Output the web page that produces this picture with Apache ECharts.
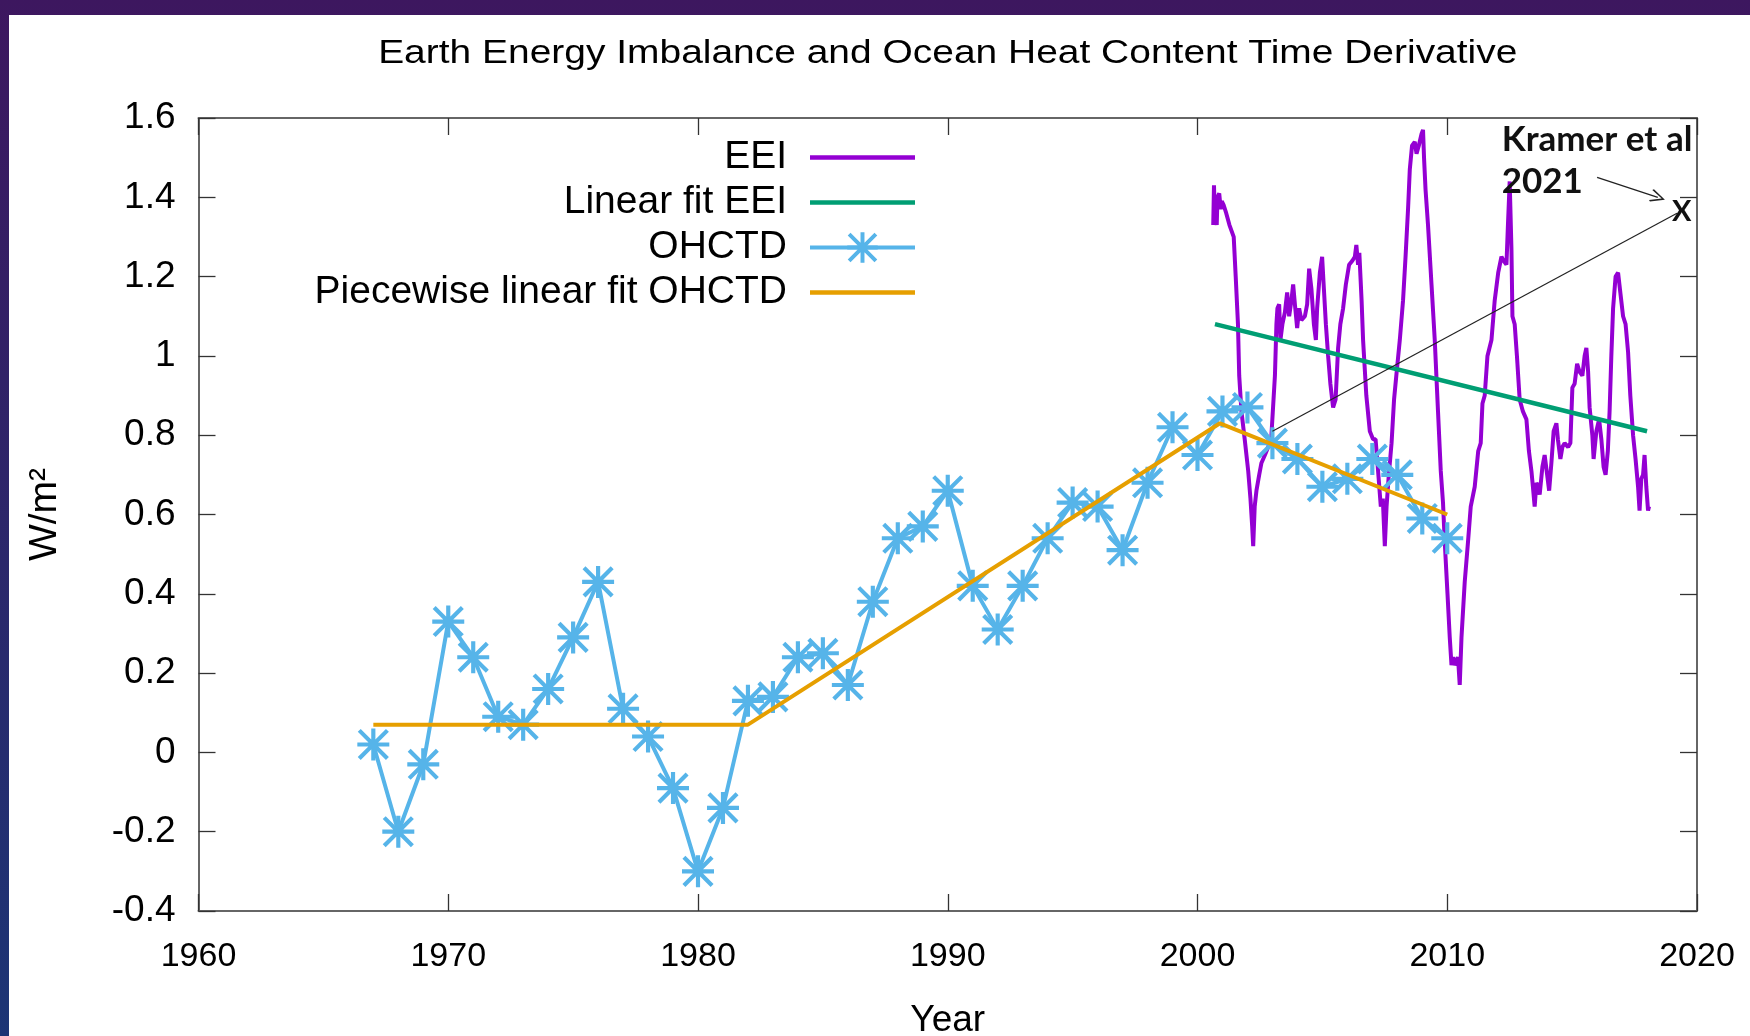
<!DOCTYPE html>
<html>
<head>
<meta charset="utf-8">
<script src="https://cdn.jsdelivr.net/npm/echarts@6/dist/echarts.min.js"></script>
<style>
html,body{margin:0;padding:0;background:#fff;}
#chart{width:1750px;height:1036px;}
</style>
</head>
<body>
<div id="chart"></div>
<script>
// ---- Data ----
const xTicks = [1960, 1970, 1980, 1990, 2000, 2010, 2020];
const yTicks = [-0.4, -0.2, 0, 0.2, 0.4, 0.6, 0.8, 1.0, 1.2, 1.4, 1.6];

const ohctdYears = [1967,1968,1969,1970,1971,1972,1973,1974,1975,1976,1977,1978,1979,1980,1981,1982,1983,1984,1985,1986,1987,1988,1989,1990,1991,1992,1993,1994,1995,1996,1997,1998,1999,2000,2001,2002,2003,2004,2005,2006,2007,2008,2009,2010];
const ohctdValues = [0.02,-0.20,-0.03,0.33,0.24,0.09,0.07,0.16,0.29,0.43,0.11,0.04,-0.09,-0.30,-0.14,0.13,0.14,0.24,0.25,0.17,0.38,0.54,0.57,0.66,0.42,0.31,0.42,0.54,0.63,0.62,0.51,0.68,0.82,0.75,0.86,0.87,0.78,0.74,0.67,0.69,0.74,0.70,0.59,0.54];

const pieceYears = [1967, 1982, 2000.9, 2010];
const pieceValues = [0.07, 0.07, 0.83, 0.60];

const eeiFitYears = [2000.7, 2018.0];
const eeiFitValues = [1.08, 0.81];

const eeiYears = [2000.63,2000.66,2000.70,2000.73,2000.77,2000.80,2000.87,2000.93,2000.97,2001.05,2001.15,2001.28,2001.45,2001.53,2001.62,2001.67,2001.76,2001.89,2002.03,2002.12,2002.19,2002.23,2002.29,2002.36,2002.47,2002.56,2002.70,2002.83,2002.96,2003.10,2003.16,2003.20,2003.27,2003.32,2003.40,2003.50,2003.59,2003.67,2003.76,2003.83,2003.90,2003.99,2004.07,2004.16,2004.30,2004.39,2004.47,2004.56,2004.66,2004.74,2004.79,2004.90,2004.99,2005.06,2005.14,2005.23,2005.32,2005.43,2005.53,2005.63,2005.72,2005.83,2005.94,2006.07,2006.20,2006.30,2006.36,2006.43,2006.48,2006.57,2006.63,2006.76,2006.90,2007.03,2007.13,2007.23,2007.34,2007.42,2007.50,2007.57,2007.66,2007.77,2007.87,2007.96,2008.10,2008.23,2008.33,2008.43,2008.50,2008.59,2008.70,2008.77,2008.86,2008.97,2009.03,2009.07,2009.13,2009.23,2009.37,2009.50,2009.63,2009.74,2009.83,2009.90,2010.01,2010.10,2010.17,2010.24,2010.30,2010.43,2010.50,2010.57,2010.70,2010.83,2010.94,2011.10,2011.24,2011.34,2011.41,2011.50,2011.61,2011.77,2011.90,2012.04,2012.17,2012.26,2012.37,2012.43,2012.50,2012.57,2012.61,2012.70,2012.79,2012.90,2013.03,2013.17,2013.27,2013.37,2013.43,2013.50,2013.57,2013.63,2013.70,2013.81,2013.90,2014.00,2014.08,2014.17,2014.26,2014.37,2014.43,2014.53,2014.61,2014.70,2014.84,2014.93,2015.01,2015.10,2015.20,2015.30,2015.41,2015.50,2015.57,2015.64,2015.70,2015.81,2015.86,2015.97,2016.08,2016.17,2016.26,2016.34,2016.43,2016.50,2016.57,2016.64,2016.74,2016.84,2016.93,2017.04,2017.14,2017.24,2017.33,2017.44,2017.54,2017.64,2017.70,2017.77,2017.84,2017.90,2017.97,2018.04,2018.08];
const eeiValues = [1.33,1.43,1.34,1.40,1.33,1.40,1.41,1.37,1.39,1.38,1.36,1.33,1.30,1.20,1.08,0.95,0.86,0.79,0.71,0.64,0.57,0.52,0.62,0.66,0.70,0.73,0.75,0.77,0.80,0.95,1.08,1.12,1.13,1.04,1.08,1.11,1.16,1.10,1.14,1.18,1.13,1.07,1.12,1.09,1.10,1.13,1.22,1.17,1.08,1.04,1.12,1.21,1.25,1.17,1.08,1.00,0.93,0.87,0.89,1.02,1.08,1.12,1.18,1.23,1.24,1.25,1.28,1.23,1.26,1.14,1.04,0.90,0.81,0.79,0.79,0.71,0.62,0.64,0.52,0.62,0.70,0.78,0.89,0.95,1.04,1.14,1.25,1.37,1.47,1.53,1.54,1.51,1.53,1.56,1.57,1.50,1.42,1.33,1.18,1.04,0.86,0.71,0.63,0.53,0.40,0.29,0.22,0.24,0.22,0.24,0.17,0.29,0.43,0.53,0.62,0.67,0.76,0.78,0.88,0.90,1.00,1.04,1.14,1.21,1.25,1.24,1.23,1.33,1.44,1.27,1.10,1.08,1.00,0.89,0.86,0.84,0.76,0.71,0.67,0.62,0.68,0.67,0.65,0.72,0.75,0.70,0.66,0.73,0.81,0.83,0.79,0.74,0.77,0.78,0.77,0.78,0.92,0.93,0.98,0.96,0.95,1.00,1.02,0.96,0.87,0.80,0.74,0.81,0.84,0.79,0.72,0.70,0.76,0.86,1.00,1.12,1.20,1.21,1.16,1.10,1.08,1.01,0.90,0.80,0.74,0.67,0.61,0.69,0.70,0.75,0.67,0.61,0.62];

// Kramer et al 2021 annotation line (hand-drawn in reference)
const kramerYears = [2003.0, 2019.2];
const kramerValues = [0.81, 1.36];
const arrowYears = [2016.0, 2018.43];
const arrowValues = [1.45, 1.40];
const annotTexts = ['Kramer et al', '2021', 'X'];
const annotYears = [2012.18, 2012.18, 2019.39];
const annotValues = [1.546, 1.439, 1.365];

const seriesNames = ['EEI', 'Linear fit EEI', 'OHCTD', 'Piecewise linear fit OHCTD'];
const colors = ['#9400D3', '#009E73', '#56B4E9', '#E69F00'];

// ---- helpers ----
const zip = (xs, ys) => xs.map((x, i) => [x, ys[i]]);
const asterisk = 'path://M0,43.5H100V56.5H0Z M43.5,0H56.5V100H43.5Z M1.4,10.6L10.6,1.4L98.6,89.4L89.4,98.6Z M1.4,89.4L89.4,1.4L98.6,10.6L10.6,98.6Z';
const barIcon = 'path://M0,0H105V4.3H0Z';
const chevron = 'path://M50,0L100,80L91,88L50,20L9,88L0,80Z';
const FONT = '"Liberation Sans", Arial, sans-serif';

const chart = echarts.init(document.getElementById('chart'), null, {renderer: 'canvas'});

const axisLineStyle = {color: '#666', width: 2};
const tickStyle = {color: '#333', width: 1.3};

const option = {
  animation: false,
  backgroundColor: '#ffffff',
  graphic: [
    {type: 'rect', z: -10, silent: true, shape: {x: 0, y: 0, width: 1750, height: 1036},
     style: {fill: new echarts.graphic.LinearGradient(0, 0, 0, 1, [{offset: 0, color: '#3d175f'}, {offset: 1, color: '#1c3575'}])}},
    {type: 'rect', z: -9, silent: true, shape: {x: 9, y: 15, width: 1741, height: 1021}, style: {fill: '#ffffff'}},
    {type: 'text', z: 10, x: 947.75, y: 54, scaleX: 1.18, silent: true,
     style: {text: 'Earth Energy Imbalance and Ocean Heat Content Time Derivative', fontSize: 33, fontFamily: FONT, fill: '#000', align: 'center', verticalAlign: 'middle'}}
  ],
  grid: {left: 198.5, right: 53, top: 118, bottom: 125, containLabel: false, outerBoundsMode: 'none'},
  legend: {
    orient: 'vertical', align: 'right', right: 833, top: 138,
    itemWidth: 105, itemHeight: 38, itemGap: 6, padding: 0, selectedMode: false,
    textStyle: {fontSize: 39, fontFamily: FONT, color: '#000', lineHeight: 38, padding: [0, 18, 0, 0]},
    data: [
      {name: seriesNames[0], icon: barIcon},
      {name: seriesNames[1], icon: barIcon},
      {name: seriesNames[2], lineStyle: {width: 4}},
      {name: seriesNames[3], icon: barIcon}
    ]
  },
  xAxis: [
    {type: 'value', position: 'bottom', min: xTicks[0], max: xTicks[xTicks.length - 1], interval: 10,
     axisLine: {show: true, onZero: false, lineStyle: axisLineStyle},
     axisTick: {show: true, inside: true, length: 17, lineStyle: tickStyle},
     axisLabel: {fontSize: 34, fontFamily: FONT, color: '#000', margin: 29, formatter: v => String(v)},
     splitLine: {show: false},
     name: 'Year', nameLocation: 'middle', nameGap: 91,
     nameTextStyle: {fontSize: 37, fontFamily: FONT, color: '#000'}},
    {type: 'value', position: 'top', min: xTicks[0], max: xTicks[xTicks.length - 1], interval: 10,
     axisLine: {show: true, onZero: false, lineStyle: axisLineStyle},
     axisTick: {show: true, inside: true, length: 17, lineStyle: tickStyle},
     axisLabel: {show: false}, splitLine: {show: false}}
  ],
  yAxis: [
    {type: 'value', position: 'left', min: yTicks[0], max: yTicks[yTicks.length - 1], interval: 0.2,
     axisLine: {show: true, onZero: false, lineStyle: axisLineStyle},
     axisTick: {show: true, inside: true, length: 17, lineStyle: tickStyle},
     axisLabel: {fontSize: 37, fontFamily: FONT, color: '#000', margin: 23,
                 formatter: v => String(Number(v.toFixed(1)))},
     splitLine: {show: false},
     name: 'W/m²', nameLocation: 'middle', nameRotate: 90, nameGap: 134,
     nameTextStyle: {fontSize: 39, fontFamily: FONT, color: '#000'}},
    {type: 'value', position: 'right', min: yTicks[0], max: yTicks[yTicks.length - 1], interval: 0.2,
     axisLine: {show: true, onZero: false, lineStyle: axisLineStyle},
     axisTick: {show: true, inside: true, length: 17, lineStyle: tickStyle},
     axisLabel: {show: false}, splitLine: {show: false}}
  ],
  series: [
    {name: seriesNames[0], type: 'line', data: zip(eeiYears, eeiValues), symbol: 'none',
     color: colors[0], lineStyle: {color: colors[0], width: 4}, z: 2},
    {name: seriesNames[1], type: 'line', data: zip(eeiFitYears, eeiFitValues), symbol: 'none',
     color: colors[1], lineStyle: {color: colors[1], width: 4.5}, z: 3},
    {name: seriesNames[2], type: 'line', data: zip(ohctdYears, ohctdValues), symbol: asterisk, symbolSize: 32,
     showSymbol: true, color: colors[2], itemStyle: {color: colors[2]}, lineStyle: {color: colors[2], width: 4}, z: 4},
    {name: seriesNames[3], type: 'line', data: zip(pieceYears, pieceValues), symbol: 'none',
     color: colors[3], lineStyle: {color: colors[3], width: 4}, z: 5},
    {name: 'Kramer', type: 'line', data: zip(kramerYears, kramerValues), symbol: 'none',
     color: '#222', lineStyle: {color: '#222', width: 1.2}, z: 6, silent: true,
     markLine: {silent: true, symbol: ['none', chevron], symbolSize: [13, 15],
       lineStyle: {color: '#222', width: 1.3, type: 'solid'}, label: {show: false},
       data: [[{coord: [arrowYears[0], arrowValues[0]]}, {coord: [arrowYears[1], arrowValues[1]]}]]},
     markPoint: {silent: true, symbol: 'circle', symbolSize: 0,
       label: {show: true, position: 'right', distance: 0, fontFamily: 'Lato, "Open Sans", sans-serif', fontWeight: 'bold', fontSize: 35, color: '#111'},
       data: annotTexts.map((t, i) => ({
         coord: [annotYears[i], annotValues[i]],
         label: i === 2 ? {formatter: t, position: 'inside', fontSize: 29} : {formatter: t}
       }))}
    }
  ]
};
chart.setOption(option);
</script>
</body>
</html>
